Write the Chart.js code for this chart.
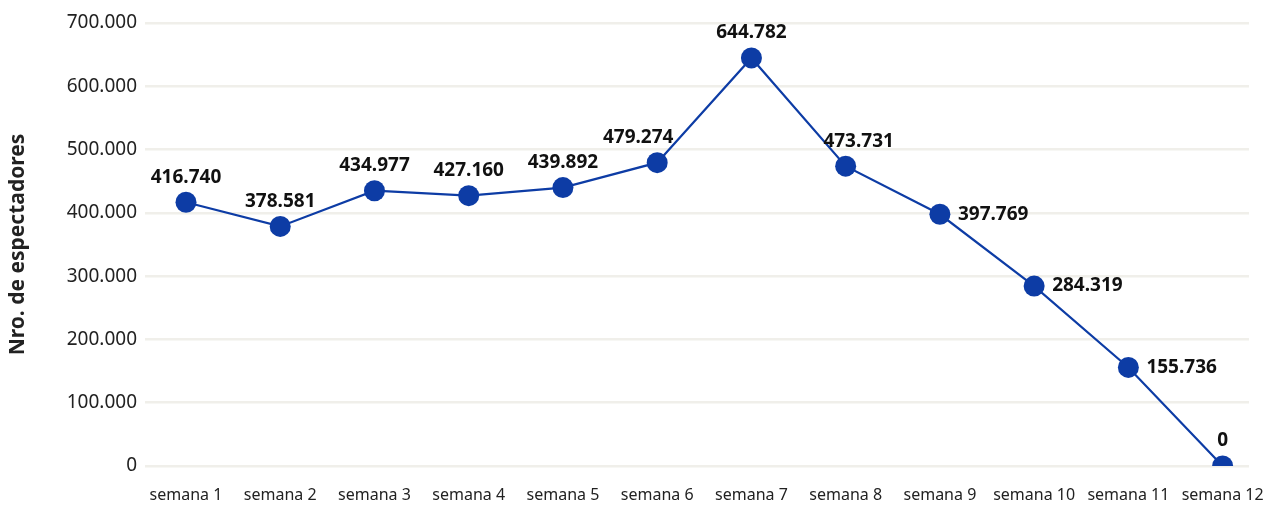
<!DOCTYPE html>
<html>
<head>
<meta charset="utf-8">
<script src="https://cdn.jsdelivr.net/npm/chart.js@4.4.1/dist/chart.umd.min.js"></script>
<style>
  html, body { margin: 0; padding: 0; background: #fff; }
  #wrap { width: 1277px; height: 509px; position: relative; }
</style>
</head>
<body>
<div id="wrap"><canvas id="chart"></canvas></div>
<script>
// Weekly spectators
const weeks = ["semana 1", "semana 2", "semana 3", "semana 4", "semana 5", "semana 6",
               "semana 7", "semana 8", "semana 9", "semana 10", "semana 11", "semana 12"];
const spectators = [416740, 378581, 434977, 427160, 439892, 479274,
                    644782, 473731, 397769, 284319, 155736, 0];
const yTicks = [0, 100000, 200000, 300000, 400000, 500000, 600000, 700000];

const BLUE = "#0d3ca5";
const FONT = "'Noto Sans', sans-serif";

// where each value label sits relative to its point
const labelPlace = ["top", "top", "top", "top", "top", "topLeft",
                    "top", "topRight", "right", "right", "right", "top"];

const fmt = v => String(v).replace(/\B(?=(\d{3})+(?!\d))/g, ".");

const valueLabels = {
  id: "valueLabels",
  afterDatasetsDraw(chart) {
    const ctx = chart.ctx;
    const meta = chart.getDatasetMeta(0);
    ctx.save();
    ctx.font = "bold 19px " + FONT;
    ctx.fillStyle = "#111";
    meta.data.forEach((pt, i) => {
      const txt = fmt(spectators[i]);
      const p = labelPlace[i];
      if (p === "right") {
        ctx.textAlign = "left"; ctx.textBaseline = "middle";
        ctx.fillText(txt, pt.x + 18, pt.y);
      } else {
        ctx.textAlign = "center"; ctx.textBaseline = "middle";
        let dx = 0;
        if (p === "topLeft") dx = -19;
        if (p === "topRight") dx = 13;
        ctx.fillText(txt, pt.x + dx, pt.y - 25);
      }
    });
    ctx.restore();
  }
};

new Chart(document.getElementById("chart"), {
  type: "line",
  data: {
    datasets: [{
      data: spectators.map((v, i) => ({ x: i, y: v })),
      borderColor: BLUE,
      backgroundColor: BLUE,
      borderWidth: 2.2,
      pointRadius: 10.5,
      pointHoverRadius: 10.5,
      pointBackgroundColor: BLUE,
      pointBorderWidth: 0,
      tension: 0
    }]
  },
  options: {
    responsive: true,
    maintainAspectRatio: false,
    animation: false,
    layout: { padding: { top: 23, right: 28, bottom: 0, left: 0 } },
    plugins: { legend: { display: false }, tooltip: { enabled: false } },
    scales: {
      x: {
        type: "linear",
        min: -0.435,
        max: 11.28,
        afterBuildTicks: s => { s.ticks = weeks.map((_, i) => ({ value: i })); },
        afterFit: s => { s.height = 43; s.paddingLeft = 0; s.paddingRight = 0; },
        grid: { display: false, drawTicks: false },
        border: { display: false },
        ticks: {
          autoSkip: false,
          maxRotation: 0,
          padding: 20,
          color: "#222",
          font: { family: FONT, size: 16 },
          callback: v => weeks[v]
        }
      },
      y: {
        min: 0,
        max: 700000,
        afterBuildTicks: s => { s.ticks = yTicks.map(v => ({ value: v })); },
        afterFit: s => { s.width = 145; },
        grid: { color: "#f0efea", lineWidth: 2.5, drawTicks: false },
        border: { display: false },
        ticks: {
          padding: 8,
          color: "#222",
          font: { family: FONT, size: 19 },
          callback: v => fmt(v)
        },
        title: {
          display: true,
          text: "Nro. de espectadores",
          color: "#222",
          font: { family: FONT, size: 21, weight: "bold" },
          padding: { top: 5, bottom: 0 }
        }
      }
    }
  },
  plugins: [valueLabels]
});
</script>
</body>
</html>
